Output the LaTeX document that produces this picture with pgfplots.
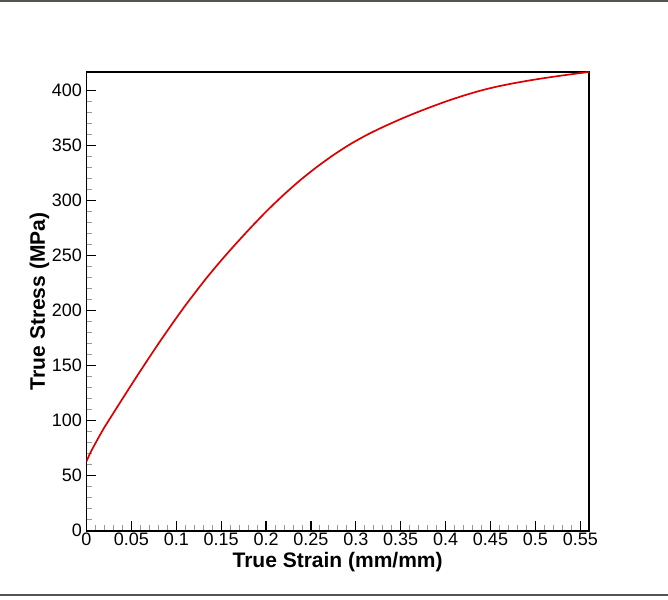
\documentclass[border=0pt]{standalone}
\usepackage{fontspec}
\setmainfont{Liberation Sans}
\usepackage{pgfplots}
\pgfplotsset{compat=1.18}
\definecolor{curvered}{RGB}{220,0,0}
\definecolor{rulegray}{RGB}{85,85,80}
\begin{document}
\begin{tikzpicture}
\useasboundingbox (-86.5pt,-68.3pt) rectangle (581.5pt,530.7pt);
\draw[rulegray, line width=1.8pt] (-86.5pt,529.6pt) -- (581.5pt,529.6pt);
\draw[rulegray, line width=1.8pt] (-86.5pt,-64.6pt) -- (581.5pt,-64.6pt);
\begin{axis}[
  at={(0pt,0pt)}, anchor=south west,
  scale only axis, width=502.3pt, height=458.7pt,
  xmin=0, xmax=0.5595, ymin=0, ymax=417,
  xtick={0,0.05,0.1,0.15,0.2,0.25,0.3,0.35,0.4,0.45,0.5,0.55},
  xticklabels={0,0.05,0.1,0.15,0.2,0.25,0.3,0.35,0.4,0.45,0.5,0.55},
  ytick={0,50,100,150,200,250,300,350,400},
  minor x tick num=4, minor y tick num=4,
  xtick pos=bottom, ytick pos=left,
  tick align=inside,
  major tick length=10pt, minor tick length=5.5pt,
  every major tick/.style={black, line width=1.3pt},
  every minor tick/.style={gray!80, line width=0.9pt},
  axis line style={line width=1.6pt},
  /pgf/number format/assume math mode=true,
  tick label style={font=\fontsize{18}{20}\selectfont},
  xticklabel style={yshift=1pt},
  yticklabel style={xshift=-1pt},
  xlabel={True Strain (mm/mm)},
  ylabel={True Stress (MPa)},
  label style={font=\bfseries\fontsize{21}{24}\selectfont},
  xlabel style={at={(axis description cs:0.5,-0.0687)}, anchor=center},
  ylabel style={at={(axis description cs:-0.0936,0.5)}, anchor=center, rotate=0},
]
\addplot[curvered, line width=1.7pt, smooth, tension=0.4] coordinates {
(0,63) (0.0035,69.5) (0.0076,76) (0.0185,92) (0.0298,106.7) (0.0430,123.7) (0.0559,140.1)
(0.0690,156.4) (0.0818,172.0) (0.0965,189.3) (0.1116,206.4) (0.132,228.0) (0.1475,243.3)
(0.1635,258.2) (0.182,274.7) (0.2007,290.6) (0.219,304.9) (0.2377,318.4) (0.256,330.3)
(0.2748,341.4) (0.293,351.0) (0.312,359.7) (0.3300,366.9) (0.3491,373.9) (0.3650,379.3)
(0.382,384.7) (0.401,390.4) (0.4195,395.4) (0.4382,399.9) (0.4565,403.6) (0.4753,406.7)
(0.494,409.4) (0.5125,411.8) (0.536,414.5) (0.5595,417)
};
\end{axis}
\end{tikzpicture}
\end{document}
